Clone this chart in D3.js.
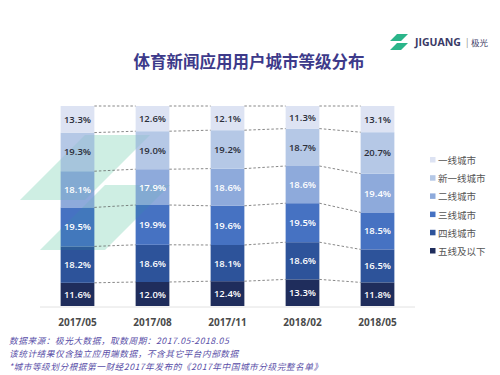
<!DOCTYPE html>
<html>
<head>
<meta charset="utf-8">
<script src="https://cdn.jsdelivr.net/npm/d3@7"></script>
<style>
  body { margin: 0; background: #fff; }
  svg { display: block; font-family: "Noto Sans CJK SC", "Noto Sans", sans-serif; }
</style>
</head>
<body>
<script>
// chart data
const periods = ["2017/05", "2017/08", "2017/11", "2018/02", "2018/05"];
const tiers = ["五线及以下", "四线城市", "三线城市", "二线城市", "新一线城市", "一线城市"];
const tierColors = ["#1f2d5c", "#2d539a", "#4672c2", "#8eaadb", "#b5c8e6", "#dde3f3"];
// bottom to top, one array per tier
const tier5 = [11.6, 12.0, 12.4, 13.3, 11.8];
const tier4 = [18.2, 18.6, 18.1, 18.6, 16.5];
const tier3 = [19.5, 19.9, 19.6, 19.5, 18.5];
const tier2 = [18.1, 17.9, 18.6, 18.6, 19.4];
const tierNew1 = [19.3, 19.0, 19.2, 18.7, 20.7];
const tier1 = [13.3, 12.6, 12.1, 11.3, 13.1];
const seriesValues = [tier5, tier4, tier3, tier2, tierNew1, tier1];
const notes = [
  "数据来源：极光大数据，取数周期：2017.05-2018.05",
  "该统计结果仅含独立应用端数据，不含其它平台内部数据",
  "*城市等级划分根据第一财经2017年发布的《2017年中国城市分级完整名单》"
];

const width = 500, height = 375;
const svg = d3.select("body").append("svg")
    .attr("width", width)
    .attr("height", height);

// table rows for stacking
const rows = periods.map((p, i) => {
  const r = {period: p};
  tiers.forEach((t, k) => r[t] = seriesValues[k][i]);
  return r;
});
const stacked = d3.stack().keys(tiers)(rows);

const x = d3.scaleBand()
    .domain(periods)
    .range([40, 415])
    .paddingInner(0.55)
    .paddingOuter(0.275);
const y = d3.scaleLinear()
    .domain([0, 100])
    .range([306, 106]);

// title
svg.append("text")
    .attr("x", 249)
    .attr("y", 68)
    .attr("text-anchor", "middle")
    .style("font-size", "16.5px")
    .style("font-weight", "bold")
    .style("fill", "#3d3a8a")
    .text("体育新闻应用用户城市等级分布");

// logo top right
const logo = svg.append("g").attr("transform", "translate(388, 32)");
logo.append("path")
    .attr("d", "M2 9 L9 2 L20 2 L13 9 Z M2 18 L9 11 L20 11 L13 18 Z")
    .attr("fill", "#2bb58a");
logo.append("text")
    .attr("x", 27).attr("y", 14)
    .style("font-size", "10.5px")
    .style("font-weight", "bold")
    .style("font-family", "'Open Sans', sans-serif")
    .style("fill", "#3a3a66")
    .text("JIGUANG");
logo.append("text")
    .attr("x", 78).attr("y", 13.5)
    .style("font-size", "9px")
    .style("fill", "#888")
    .text("|");
logo.append("text")
    .attr("x", 83).attr("y", 14)
    .style("font-size", "8.5px")
    .style("fill", "#3a3a66")
    .text("极光");

// faint watermark icon behind the chart
svg.append("path")
    .attr("d", "M20 200 L85 135 L150 135 L85 200 Z M40 250 L105 185 L170 185 L105 250 Z")
    .attr("fill", "#2bb58a")
    .attr("opacity", 0.14);

// axis baseline
svg.append("line")
    .attr("x1", 40).attr("x2", 415)
    .attr("y1", 307).attr("y2", 307)
    .attr("stroke", "#e2e2e2")
    .attr("stroke-width", 1);

// bars
const layer = svg.selectAll(".layer")
    .data(stacked)
    .enter().append("g")
    .attr("class", "layer")
    .attr("fill", (d, i) => tierColors[i]);

layer.selectAll("rect")
    .data(d => d)
    .enter().append("rect")
    .attr("x", d => x(d.data.period))
    .attr("width", x.bandwidth())
    .attr("y", d => y(d[1]))
    .attr("height", d => y(d[0]) - y(d[1]));

// watermark tint over the first bars, like the original
svg.append("path")
    .attr("d", "M20 200 L85 135 L150 135 L85 200 Z M40 250 L105 185 L170 185 L105 250 Z")
    .attr("fill", "#2bb58a")
    .attr("opacity", 0.1);

// dashed connectors between segment boundaries
stacked.forEach(s => {
  for (let i = 0; i < periods.length - 1; i++) {
    svg.append("line")
        .attr("x1", x(periods[i]) + x.bandwidth())
        .attr("x2", x(periods[i + 1]))
        .attr("y1", y(s[i][1]))
        .attr("y2", y(s[i + 1][1]))
        .attr("stroke", "#555")
        .attr("stroke-width", 0.7)
        .attr("stroke-dasharray", "2.5,2");
  }
});

// segment labels
stacked.forEach((s, k) => {
  svg.selectAll(".lbl" + k)
      .data(s)
      .enter().append("text")
      .attr("x", d => x(d.data.period) + x.bandwidth() / 2)
      .attr("y", d => (y(d[0]) + y(d[1])) / 2 + 3.5)
      .attr("text-anchor", "middle")
      .style("font-family", "'Open Sans', sans-serif")
      .style("font-size", "9.5px")
      .style("font-weight", "600")
      .style("fill", k >= 4 ? "#2b2f3a" : "#fff")
      .text(d => (d[1] - d[0]).toFixed(1) + "%");
});

// x labels
svg.selectAll(".xl")
    .data(periods)
    .enter().append("text")
    .attr("x", d => x(d) + x.bandwidth() / 2)
    .attr("y", 326)
    .attr("text-anchor", "middle")
    .style("font-family", "'Open Sans', sans-serif")
    .style("font-size", "10px")
    .style("font-weight", "bold")
    .style("fill", "#4a4a4a")
    .text(d => d);

// legend, top tier first
const legendItems = tiers.slice().reverse();
const legendColors = tierColors.slice().reverse();
const legend = svg.selectAll(".lg")
    .data(legendItems)
    .enter().append("g")
    .attr("transform", (d, i) => "translate(430," + (161 + i * 18.2) + ")");
legend.append("rect")
    .attr("x", 0).attr("y", -4)
    .attr("width", 5.5).attr("height", 5.5)
    .attr("fill", (d, i) => legendColors[i]);
legend.append("text")
    .attr("x", 8).attr("y", 3)
    .style("font-size", "9.5px")
    .style("fill", "#555")
    .text(d => d);

// footnotes
svg.selectAll(".note")
    .data(notes)
    .enter().append("text")
    .attr("x", 9)
    .attr("y", (d, i) => 344 + i * 12.8)
    .style("font-size", "8.7px")
    .style("letter-spacing", "0.5px")
    .style("font-style", "italic")
    .style("fill", "#5a4fa8")
    .text(d => d);
</script>
</body>
</html>
